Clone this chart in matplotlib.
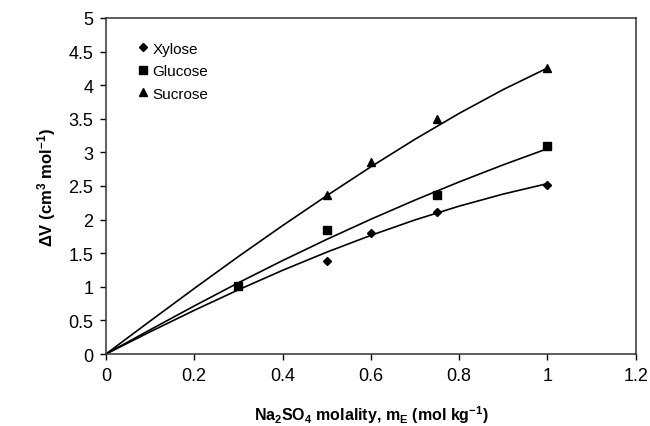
import matplotlib
matplotlib.use("Agg")
import matplotlib.pyplot as plt

plt.rcParams['font.family'] = ['Liberation Sans', 'DejaVu Sans']
plt.rcParams['mathtext.fontset'] = 'custom'
plt.rcParams['mathtext.rm'] = 'Liberation Sans:bold'
plt.rcParams['mathtext.bf'] = 'Liberation Sans:bold'
plt.rcParams['mathtext.default'] = 'rm'

# measured points
xyl_x = [0.5, 0.6, 0.75, 1.0]
xyl_y = [1.39, 1.80, 2.11, 2.52]
glu_x = [0.3, 0.5, 0.75, 1.0]
glu_y = [1.01, 1.85, 2.37, 3.09]
suc_x = [0.5, 0.6, 0.75, 1.0]
suc_y = [2.36, 2.85, 3.50, 4.25]

# fitted curves
fit_x = [0, 0.1, 0.2, 0.3, 0.4, 0.5, 0.6, 0.7, 0.8, 0.9, 1.0]
xyl_fit = [0, 0.33, 0.65, 0.955, 1.245, 1.515, 1.765, 1.995, 2.20, 2.38, 2.535]
glu_fit = [0, 0.36, 0.715, 1.06, 1.39, 1.705, 2.005, 2.29, 2.56, 2.815, 3.055]
suc_fit = [0, 0.49, 0.975, 1.45, 1.91, 2.355, 2.785, 3.195, 3.58, 3.935, 4.255]

fig = plt.figure(figsize=(6.5, 4.27), dpi=100)
ax = fig.add_axes([0.163, 0.1686, 0.815, 0.787])

for yy in (xyl_fit, glu_fit, suc_fit):
    ax.plot(fit_x, yy, color='black', lw=1.2)

ax.plot(xyl_x, xyl_y, 'D', color='black', ms=4.5, ls='none', label='Xylose')
ax.plot(glu_x, glu_y, 's', color='black', ms=6, ls='none', label='Glucose')
ax.plot(suc_x, suc_y, '^', color='black', ms=6, ls='none', label='Sucrose')

ax.set_xlim(0, 1.2)
ax.set_ylim(0, 5)
ax.set_xticks([0, 0.2, 0.4, 0.6, 0.8, 1.0, 1.2])
ax.set_xticklabels(['0', '0.2', '0.4', '0.6', '0.8', '1', '1.2'])
ax.set_yticks([0, 0.5, 1, 1.5, 2, 2.5, 3, 3.5, 4, 4.5, 5])
ax.set_yticklabels(['0', '0.5', '1', '1.5', '2', '2.5', '3', '3.5', '4', '4.5', '5'])
ax.tick_params(direction='out', length=4, width=1, labelsize=13, pad=5)
for s in ax.spines.values():
    s.set_linewidth(1.1)
    s.set_color('#333333')

ax.set_xlabel(r'Na$_2$SO$_4$ molality, m$_E$ (mol kg$^{-1}$)', fontsize=11.5,
              fontweight='bold')
ax.set_ylabel(r'ΔV (cm$^3$ mol$^{-1}$)', fontsize=12, fontweight='bold')
ax.xaxis.set_label_coords(0.5, -0.148)
ax.yaxis.set_label_coords(-0.09, 0.5)

ax.legend(loc='upper left', bbox_to_anchor=(0.03, 0.97), frameon=False,
          fontsize=11, handletextpad=0.1, handlelength=1.0, labelspacing=0.55)

fig.savefig('out.png', dpi=100)
